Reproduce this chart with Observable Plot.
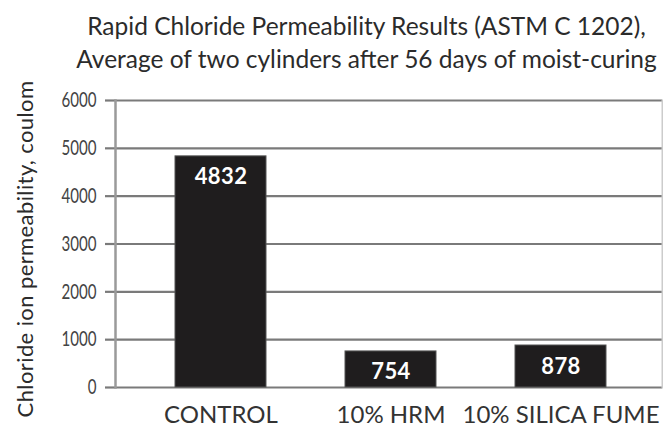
<!DOCTYPE html>
<html>
<head>
<meta charset="utf-8">
<script src="https://cdn.jsdelivr.net/npm/d3@7"></script>
<script src="https://cdn.jsdelivr.net/npm/@observablehq/plot@0.6"></script>
<style>
  html, body { margin: 0; padding: 0; background: white; }
  #wrap { width: 663px; height: 427px; overflow: hidden; }
  #title { box-sizing: border-box; width: 663px; height: 70px; padding: 9px 0 0 70px;
    font-family: Lato, "Open Sans", sans-serif; font-size: 24.5px; line-height: 33px;
    color: #2b2b2b; text-align: center; white-space: nowrap; }
</style>
</head>
<body>
<div id="wrap">
  <div id="title"></div>
  <div id="chart"></div>
</div>
<script>
const titleLines = [
  "Rapid Chloride Permeability Results (ASTM C 1202),",
  "Average of two cylinders after 56 days of moist-curing"
];
const categories = ["CONTROL", "10% HRM", "10% SILICA FUME"];
const values = [4832, 754, 878];
const yTicks = [0, 1000, 2000, 3000, 4000, 5000, 6000];
const yLabel = "Chloride ion permeability, coulom";

document.getElementById("title").innerHTML = titleLines.join("<br>");

const data = categories.map((c, i) => ({cat: c, val: values[i]}));

const chart = Plot.plot({
  width: 663,
  height: 357,
  marginTop: 30,
  marginBottom: 40,
  marginLeft: 115,
  marginRight: 1,
  style: {fontFamily: "Lato, sans-serif", background: "white", color: "#333", overflow: "visible"},
  x: {domain: categories, paddingInner: 0.465, paddingOuter: 0.34, align: 0.52},
  y: {domain: [0, 6000]},
  marks: [
    Plot.gridY(yTicks, {stroke: "#7a7a7a", strokeOpacity: 1, strokeWidth: 2.2}),
    Plot.axisY({ticks: yTicks, tickSize: 10, tickPadding: 9, stroke: "#7a7a7a", strokeWidth: 2.2,
      fontSize: 21, fill: "#444", label: null, tickFormat: d => String(d)}),
    Plot.frame({anchor: "left", stroke: "#9a9a9a", strokeWidth: 2.5}),
    Plot.frame({anchor: "right", stroke: "#cccccc", strokeWidth: 2}),
    Plot.barY(data, {x: "cat", y: "val", fill: "#1f1d1e", stroke: "#555", strokeWidth: 1}),
    Plot.text(data, {x: "cat", y: "val", text: d => String(d.val), dy: 21, fill: "white",
      fontSize: 22, fontWeight: "bold"}),
    Plot.axisX({tickSize: 0, tickPadding: 18, fontSize: 24, label: null}),
    Plot.text([yLabel], {frameAnchor: "left", textAnchor: "middle", rotate: -90, dx: -90, dy: 5,
      fontSize: 22, fill: "#2b2b2b", letterSpacing: "0.5px"})
  ]
});
// condense the y tick labels horizontally, keeping their right edge in place
d3.select(chart).selectAll("g[aria-label='y-axis tick label'] text").each(function() {
  const t = this.getAttribute("transform") || "";
  this.setAttribute("transform", t + " scale(0.72,1)");
});
d3.select(chart).selectAll("g[aria-label='text'] text").style("letter-spacing", "0.4px");
document.getElementById("chart").appendChild(chart);
</script>
</body>
</html>
